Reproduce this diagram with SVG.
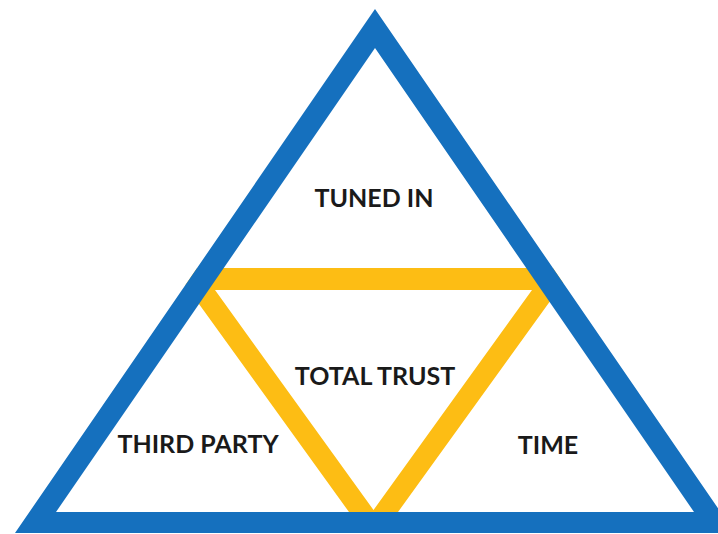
<svg xmlns="http://www.w3.org/2000/svg" width="718" height="534" viewBox="0 0 718 534">
<style>
.lbl{font-family:Lato,"Liberation Sans",sans-serif;font-weight:bold;font-size:25px;fill:#1a1a1a;text-anchor:middle}
.blue{fill:#1570BE;fill-rule:evenodd}
.yellow{fill:#FDBD14;fill-rule:evenodd}
</style>
<defs>
<clipPath id="outerClip"><polygon points="375,9 15,533 735,533"/></clipPath>
</defs>
<rect width="718" height="534" fill="#ffffff"/>
<g id="connectors">
<g id="inner-triangle" clip-path="url(#outerClip)">
<path class="yellow" d="M173,268 L574,268 L373.5,546 Z M215,290 L532,290 L373.5,510 Z"/>
</g>
<g id="outer-triangle">
<path class="blue" d="M375,9 L15,533 L735,533 Z M375,48 L56,512 L694,512 Z"/>
</g>
</g>
<g id="node-tuned-in"><text class="lbl" x="374" y="207">TUNED IN</text></g>
<g id="node-total-trust"><text class="lbl" x="375" y="385">TOTAL TRUST</text></g>
<g id="node-third-party"><text class="lbl" x="198" y="453">THIRD PARTY</text></g>
<g id="node-time"><text class="lbl" x="548" y="454">TIME</text></g>
</svg>
